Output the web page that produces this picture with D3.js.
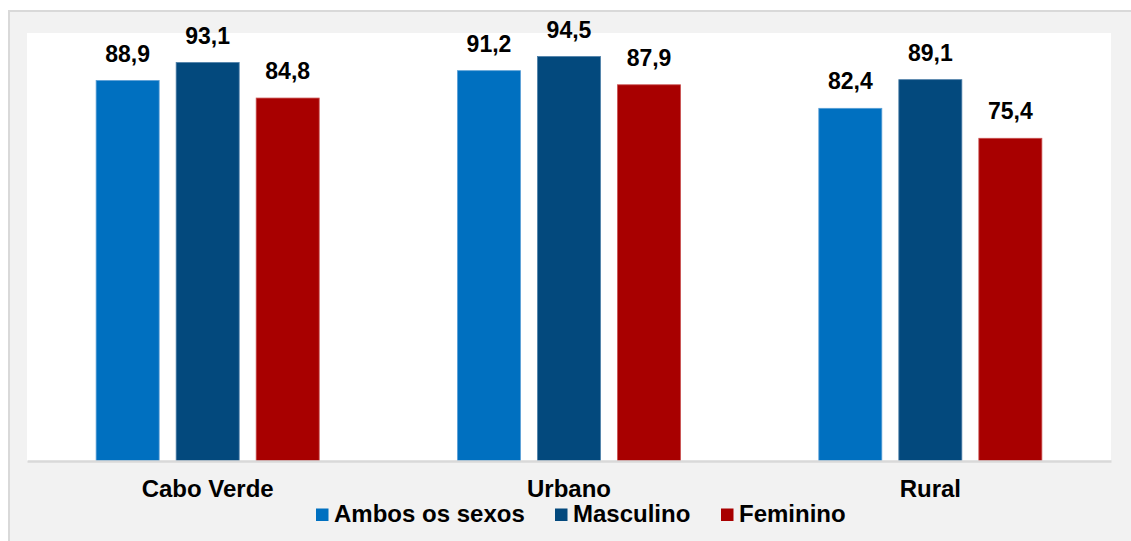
<!DOCTYPE html>
<html>
<head>
<meta charset="utf-8">
<script src="https://cdn.jsdelivr.net/npm/d3@7"></script>
<style>
  html, body { margin: 0; padding: 0; background: #ffffff; }
  svg { display: block; font-family: "Liberation Sans", Arial, sans-serif; }
</style>
</head>
<body>
<svg id="chart" width="1131" height="541"></svg>
<script>
const categories = ["Cabo Verde", "Urbano", "Rural"];
const seriesNames = ["Ambos os sexos", "Masculino", "Feminino"];
const ambos = [88.9, 91.2, 82.4];
const masculino = [93.1, 94.5, 89.1];
const feminino = [84.8, 87.9, 75.4];
const seriesValues = [ambos, masculino, feminino];
const colors = ["#0070c0", "#03497d", "#a80000"];
const strokes = ["#5a9fd6", "#4d7fa8", "#c95050"];

const svg = d3.select("#chart");

// outer chart area
svg.append("rect").attr("x", 9).attr("y", 11).attr("width", 1140).attr("height", 540)
  .attr("fill", "#f2f2f2").attr("stroke", "#d9d9d9").attr("stroke-width", 2);

const plot = { left: 27, right: 1111, top: 33, bottom: 461 };
svg.append("rect").attr("x", plot.left).attr("y", plot.top)
  .attr("width", plot.right - plot.left).attr("height", plot.bottom - plot.top)
  .attr("fill", "#ffffff");

const x0 = d3.scaleBand().domain(categories).range([plot.left, plot.right]).padding(0);
const x1 = d3.scaleBand().domain(seriesNames).range([0, x0.bandwidth()])
  .paddingInner(0.2125).paddingOuter(0.864);
const y = d3.scaleLinear().domain([0, 100]).range([plot.bottom, plot.top]);

const data = [];
categories.forEach((c, i) => {
  seriesNames.forEach((s, j) => {
    data.push({ cat: c, series: s, j: j, value: seriesValues[j][i] });
  });
});

const fmt = v => d3.format(".1f")(v).replace(".", ",");

svg.append("g").selectAll("rect").data(data).join("rect")
  .attr("x", d => x0(d.cat) + x1(d.series))
  .attr("y", d => y(d.value))
  .attr("width", x1.bandwidth())
  .attr("height", d => y(0) - y(d.value))
  .attr("fill", d => colors[d.j])
  .attr("stroke", d => strokes[d.j])
  .attr("stroke-width", 0.8);

svg.append("g").selectAll("text").data(data).join("text")
  .attr("x", d => x0(d.cat) + x1(d.series) + x1.bandwidth() / 2)
  .attr("y", d => y(d.value) - 19)
  .attr("text-anchor", "middle")
  .attr("font-size", 23)
  .attr("font-weight", "bold")
  .attr("fill", "#000")
  .text(d => fmt(d.value));

// x axis
const xAxis = d3.axisBottom(x0).tickSize(0).tickPadding(0);
const gx = svg.append("g").attr("transform", `translate(0,${plot.bottom})`).call(xAxis);
gx.select(".domain").attr("stroke", "#d9d9d9").attr("stroke-width", 2.5);
gx.selectAll(".tick text")
  .attr("font-size", 24).attr("font-weight", "bold").attr("fill", "#000")
  .attr("font-family", "'Liberation Sans', Arial, sans-serif")
  .attr("dy", null).attr("y", 36);

// legend
const legendX = [316, 555, 721];
const lg = svg.append("g").selectAll("g").data(seriesNames).join("g")
  .attr("transform", (d, i) => `translate(${legendX[i]},0)`);
lg.append("rect").attr("x", 0).attr("y", 508.5).attr("width", 12.5).attr("height", 12.5)
  .attr("fill", (d, i) => colors[i]);
lg.append("text").attr("x", 18).attr("y", 522)
  .attr("font-size", 24).attr("font-weight", "bold").attr("fill", "#000")
  .text(d => d);
</script>
</body>
</html>
